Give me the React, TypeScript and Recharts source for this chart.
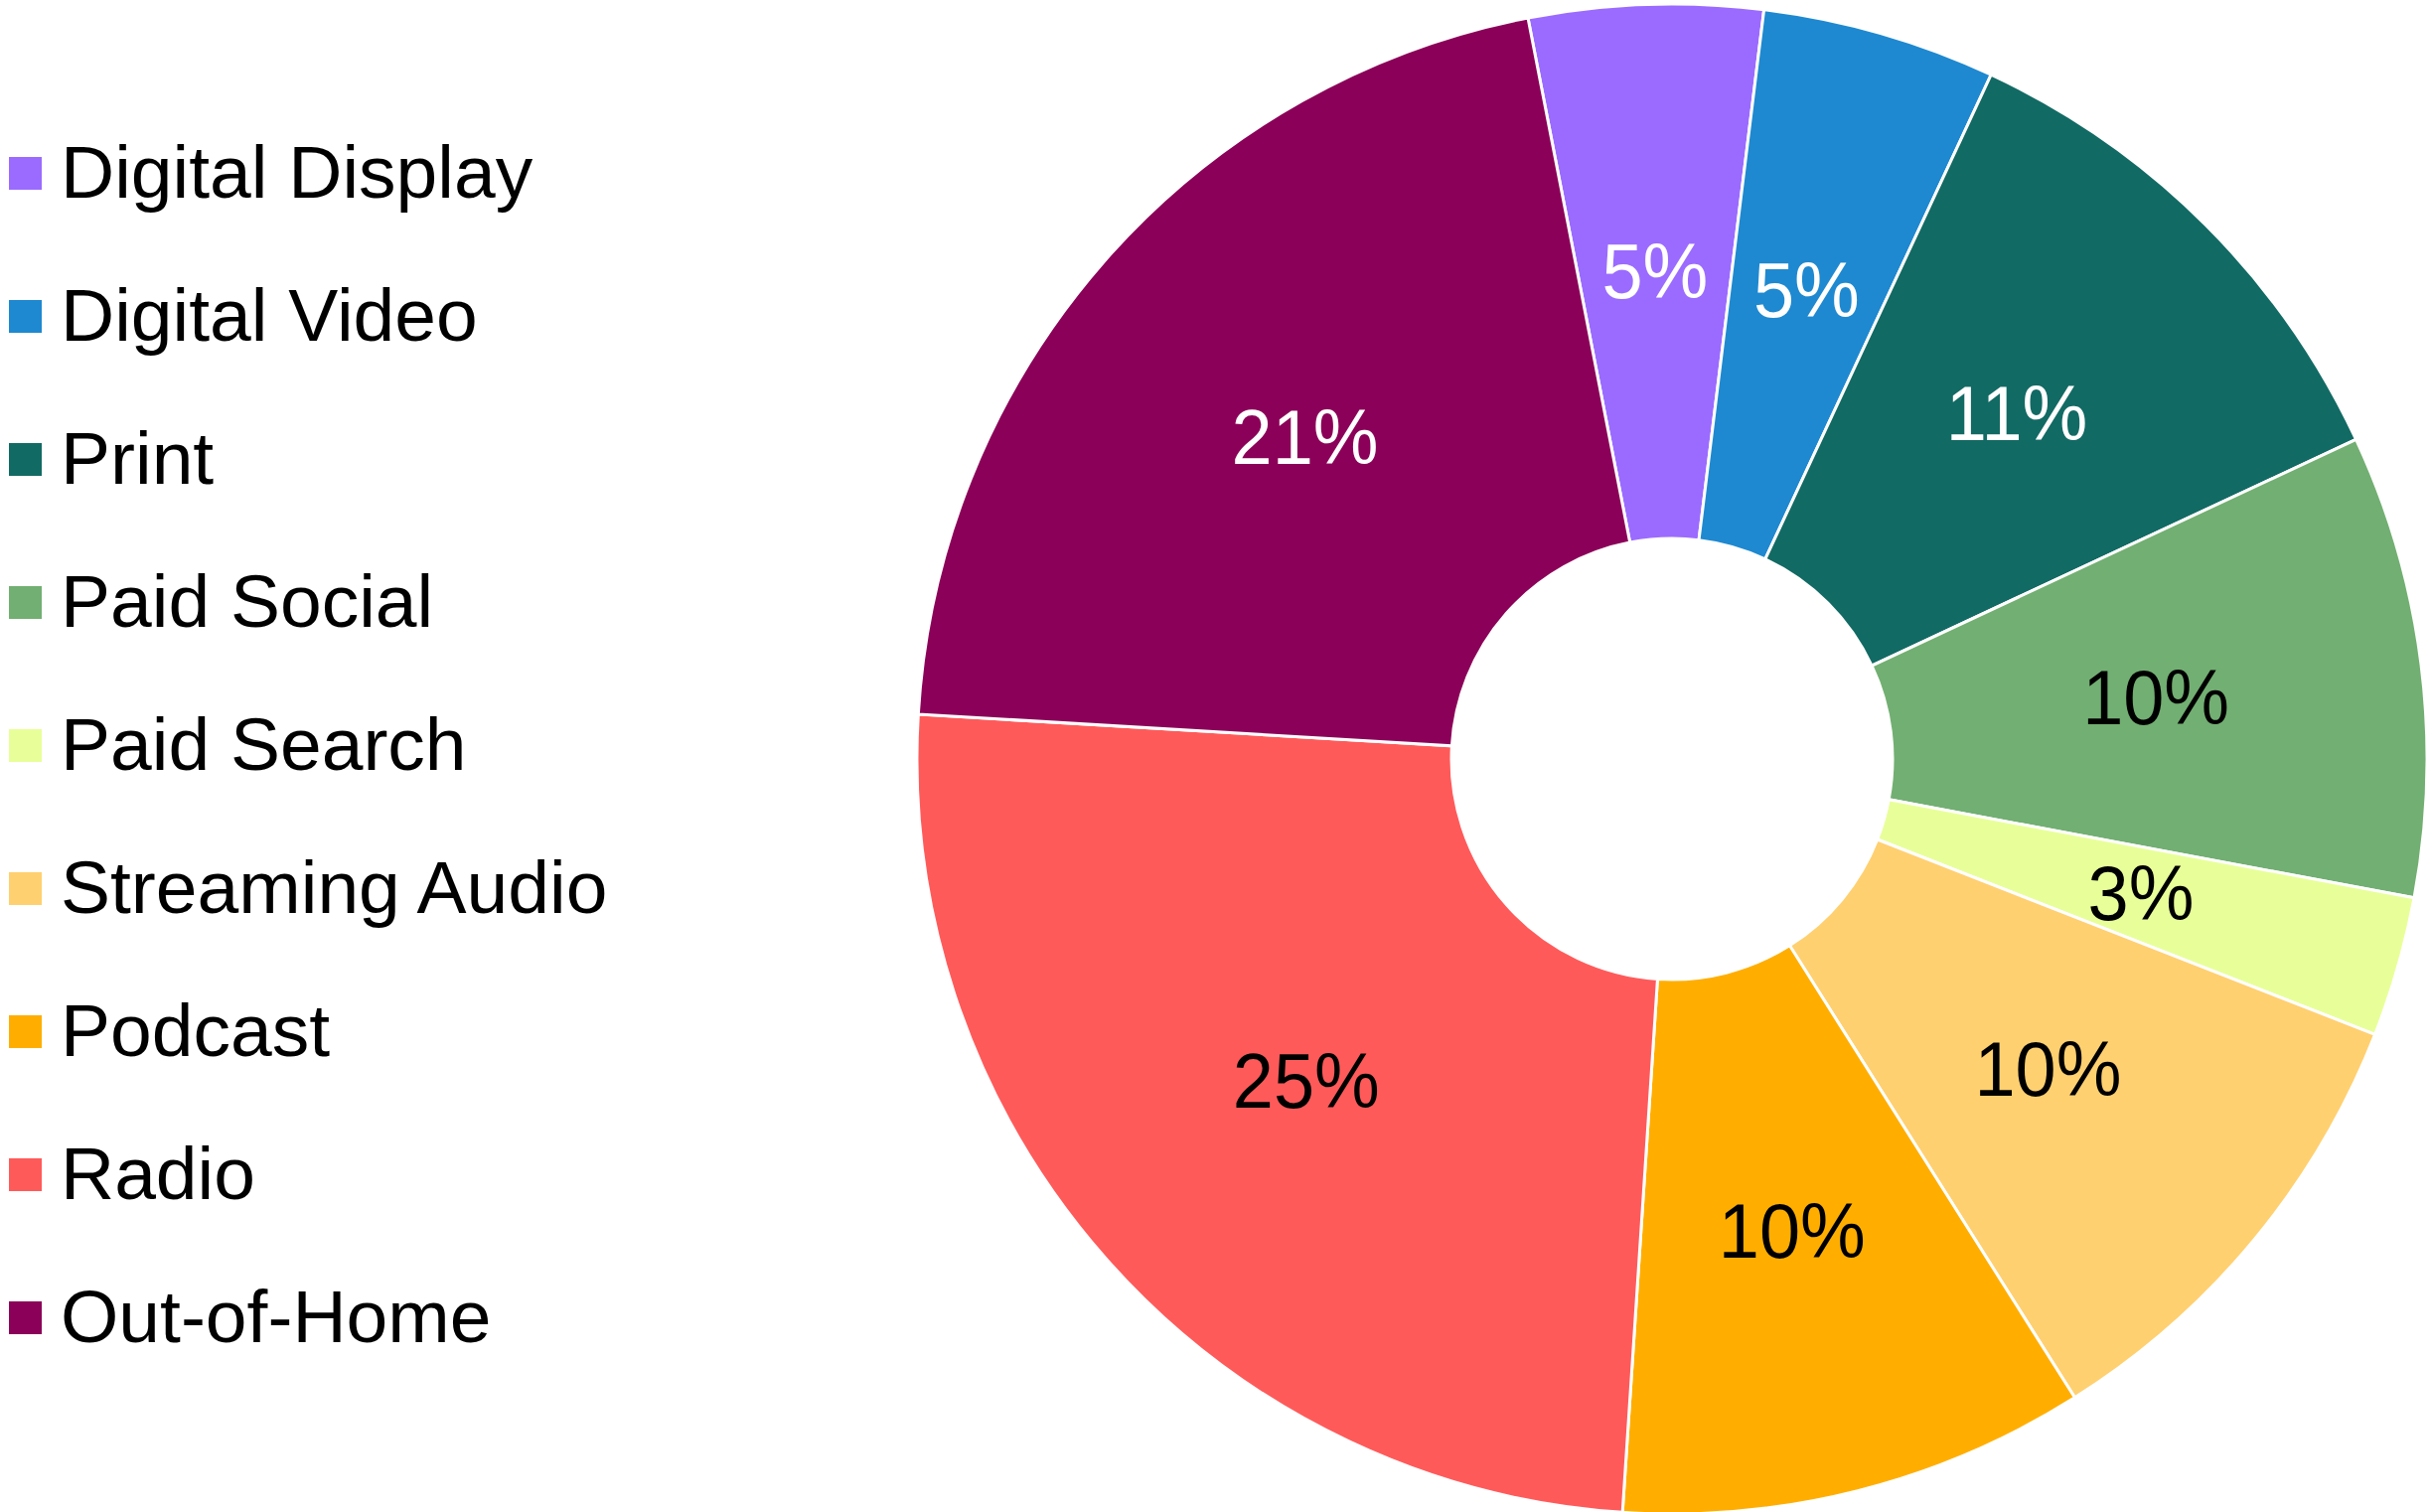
import React from 'react';
import { PieChart, Pie, Cell } from 'recharts';

const categories = [
  'Digital Display',
  'Digital Video',
  'Print',
  'Paid Social',
  'Paid Search',
  'Streaming Audio',
  'Podcast',
  'Radio',
  'Out-of-Home',
];
const shares = [5.0, 5.0, 11.1, 9.9, 3.0, 10.1, 10.0, 24.9, 21.0];
const colors = ['#9B6BFF', '#1E89D0', '#126A64', '#72AF72', '#E8FF99', '#FFD070', '#FFAE00', '#FF5A5A', '#8B0058'];
const labelColors = ['#fff', '#fff', '#fff', '#000', '#000', '#000', '#000', '#000', '#fff'];

const data = categories.map((name, i) => ({ name, value: shares[i] }));

const FONT = '"Liberation Sans", Arial, Helvetica, sans-serif';
const RAD = Math.PI / 180;

const renderLabel = (props: any) => {
  const { cx, cy, midAngle, innerRadius, outerRadius, percent, index } = props;
  const r = (innerRadius + outerRadius) / 2;
  const x = cx + r * Math.cos(-midAngle * RAD);
  const y = cy + r * Math.sin(-midAngle * RAD);
  return (
    <text
      transform={`translate(${x},${y}) scale(0.96,1)`}
      textAnchor="middle"
      dominantBaseline="central"
      fontSize={77}
      fontFamily={FONT}
      fill={labelColors[index]}
    >
      {Math.round(percent * 100)}%
    </text>
  );
};

// legend drawn by hand so it doesn't push the pie's offset around
const ChartLegend = () => (
  <svg width={700} height={1522} style={{ position: 'absolute', left: 0, top: 0 }}>
    {categories.map((name, i) => (
      <g key={name}>
        <rect x={9} y={158 + i * 144} width={33} height={33} fill={colors[i]} />
        <text x={61} y={199 + i * 144} fontSize={75} fontFamily={FONT} fill="#000">
          {name}
        </text>
      </g>
    ))}
  </svg>
);

export default function App() {
  return (
    <div style={{ position: 'absolute', left: 0, top: 0, width: 2448, height: 1522, background: '#fff', overflow: 'hidden' }}>
      <ChartLegend />
      <div style={{ position: 'absolute', left: 0, top: 0 }}>
        <PieChart width={2448} height={1522} margin={{ top: 0, right: 0, bottom: 0, left: 0 }}>
          <Pie
            data={data}
            dataKey="value"
            nameKey="name"
            cx={1683}
            cy={764}
            innerRadius={222}
            outerRadius={760}
            startAngle={101}
            endAngle={-259}
            stroke="#fff"
            strokeWidth={3}
            label={renderLabel}
            labelLine={false}
            isAnimationActive={false}
          >
            {data.map((d, i) => (
              <Cell key={d.name} fill={colors[i]} />
            ))}
          </Pie>
        </PieChart>
      </div>
    </div>
  );
}
